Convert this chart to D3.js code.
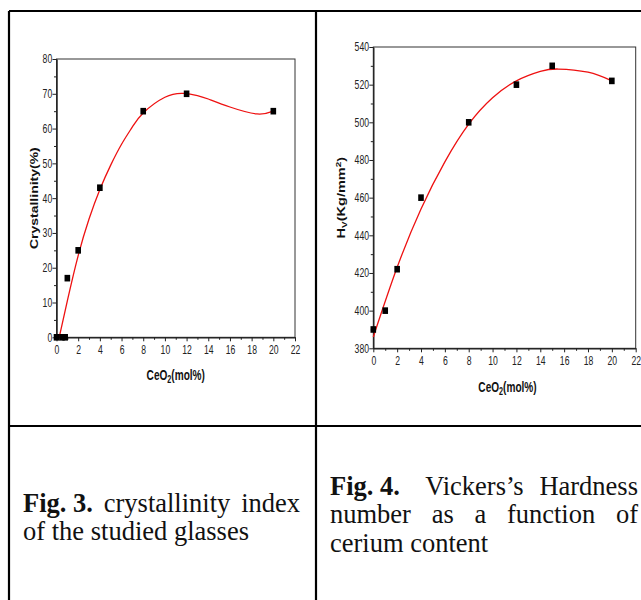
<!DOCTYPE html>
<html>
<head>
<meta charset="utf-8">
<title>Crystallinity and Vickers hardness vs CeO2</title>
<script src="https://d3js.org/d3.v7.min.js"></script>
<style>
  body { margin: 0; background: #fff; }
  svg { display: block; }
  .tick text { font-family: "Liberation Sans", Arial, sans-serif; }
</style>
</head>
<body>
<div id="chart"></div>
<script>
// ---- data ----
// Fig. 3 : crystallinity (%) vs CeO2 (mol%)
var crystX = [0, 0.5, 0.8, 1, 2, 4, 8, 12, 20];
var crystY = [0, 0, 0, 17, 25, 43, 65, 70, 65];
// red fitted curve
var crystFitX = [0.25, 1, 2, 3, 4, 5, 6, 7, 8, 10, 11.7, 13, 14, 16, 18.5, 20];
var crystFitY = [0, 10.5, 23.5, 34, 42.5, 49.5, 55.5, 60.5, 64.5, 69, 70.1, 69.5, 68.5, 66.2, 64.2, 65];
var crystYTicks = [0, 10, 20, 30, 40, 50, 60, 70, 80];
var crystYMinor = [5, 15, 25, 35, 45, 55, 65, 75];

// Fig. 4 : Vickers hardness vs CeO2 (mol%)
var hardX = [0, 1, 2, 4, 8, 12, 15, 20];
var hardY = [390, 400, 422, 460, 500, 520, 530, 522];
var hardFitX = [0, 2, 4, 6, 8, 10, 12, 14, 15.5, 18, 20];
var hardFitY = [386, 423, 454, 479, 499, 513, 522, 527, 528.3, 526.6, 522];
var hardYTicks = [380, 400, 420, 440, 460, 480, 500, 520, 540];
var hardYMinor = [390, 410, 430, 450, 470, 490, 510, 530];

var xTicks = [0, 2, 4, 6, 8, 10, 12, 14, 16, 18, 20, 22];
var xMinor = [1, 3, 5, 7, 9, 11, 13, 15, 17, 19, 21];

var W = 641, H = 600;
var SQ = 0.72; // the source figure is squeezed horizontally
var SANS = '"Liberation Sans", Arial, sans-serif';
var SERIF = '"Liberation Serif", "Times New Roman", serif';

var svg = d3.select("#chart").append("svg")
  .attr("width", W).attr("height", H);
svg.append("rect").attr("width", W).attr("height", H).attr("fill", "#fff");

// table lines
var lines = [[9, 11, 641, 11], [9, 11, 9, 600], [316, 11, 316, 600], [9, 426, 641, 426]];
lines.forEach(function(l) {
  svg.append("line")
    .attr("x1", l[0]).attr("y1", l[1]).attr("x2", l[2]).attr("y2", l[3])
    .attr("stroke", "#000").attr("stroke-width", 2.2);
});

function panel(opt) {
  var x = d3.scaleLinear().domain([0, 22]).range([opt.left, opt.right]);
  var y = d3.scaleLinear().domain(opt.ydom).range([opt.bottom, opt.top]);
  var g = svg.append("g");

  // frame
  g.append("rect")
    .attr("x", opt.left).attr("y", opt.top)
    .attr("width", opt.right - opt.left).attr("height", opt.bottom - opt.top)
    .attr("fill", "none").attr("stroke", "#333").attr("stroke-width", 1);

  g.append("g").attr("transform", "translate(0," + opt.bottom + ")")
    .call(d3.axisBottom(x).tickValues(xTicks).tickSize(4).tickSizeOuter(0).tickPadding(4));
  g.append("g").attr("transform", "translate(0," + opt.bottom + ")")
    .call(d3.axisBottom(x).tickValues(xMinor).tickSize(2.5).tickSizeOuter(0).tickFormat(""));
  g.append("g").attr("transform", "translate(" + opt.left + ",0)")
    .call(d3.axisLeft(y).tickValues(opt.yticks).tickSize(4).tickSizeOuter(0).tickPadding(2));
  g.append("g").attr("transform", "translate(" + opt.left + ",0)")
    .call(d3.axisLeft(y).tickValues(opt.yminor).tickSize(2.5).tickSizeOuter(0).tickFormat(""));

  g.selectAll(".domain").attr("stroke", "#222");
  g.selectAll(".tick line").attr("stroke", "#222");
  g.selectAll(".tick text").attr("font-size", 12).attr("fill", "#222")
    .attr("transform", "scale(" + SQ + ",1)");

  // fitted curve
  var line = d3.line()
    .x(function(d) { return x(d[0]); })
    .y(function(d) { return y(d[1]); })
    .curve(d3.curveNatural);
  g.append("path")
    .datum(d3.zip(opt.fitX, opt.fitY))
    .attr("d", line)
    .attr("fill", "none").attr("stroke", "#ee1111").attr("stroke-width", 1.3);

  // data squares
  g.selectAll("rect.pt")
    .data(d3.zip(opt.px, opt.py))
    .enter().append("rect").attr("class", "pt")
    .attr("x", function(d) { return x(d[0]) - 2.8; })
    .attr("y", function(d) { return y(d[1]) - 3.3; })
    .attr("width", 5.6).attr("height", 6.6)
    .attr("fill", "#000");

  // x title
  var cx = (opt.left + opt.right) / 2 + opt.xtOff;
  var xt = g.append("text")
    .attr("transform", "translate(" + cx + "," + (opt.bottom + opt.xtY) + ") scale(" + SQ + ",1)")
    .attr("text-anchor", "middle")
    .attr("font-family", SANS).attr("font-weight", "bold").attr("font-size", 14)
    .attr("fill", "#111");
  xt.append("tspan").text("CeO");
  xt.append("tspan").attr("font-size", 10).attr("dy", 3).text("2");
  xt.append("tspan").attr("dy", -3).text("(mol%)");

  // y title
  var yt = g.append("text")
    .attr("transform", "translate(" + opt.ytX + "," + ((opt.top + opt.bottom) / 2 + opt.ytYOff) +
      ") scale(" + SQ + ",1) rotate(-90)")
    .attr("text-anchor", "middle")
    .attr("font-family", SANS).attr("font-weight", "bold").attr("font-size", opt.ytSize)
    .attr("fill", "#111");
  opt.ytitle(yt);
}

panel({
  left: 56.5, right: 295, top: 59, bottom: 337.3,
  ydom: [0, 80], yticks: crystYTicks, yminor: crystYMinor,
  px: crystX, py: crystY, fitX: crystFitX, fitY: crystFitY,
  xtOff: 0, xtY: 43, ytX: 38, ytYOff: 0, ytSize: 14,
  ytitle: function(t) { t.text("Crystallinity(%)"); }
});

panel({
  left: 373.3, right: 635.7, top: 47, bottom: 348.3,
  ydom: [380, 540], yticks: hardYTicks, yminor: hardYMinor,
  px: hardX, py: hardY, fitX: hardFitX, fitY: hardFitY,
  xtOff: 3, xtY: 44, ytX: 345, ytYOff: 0, ytSize: 14.5,
  ytitle: function(t) {
    t.append("tspan").text("H");
    t.append("tspan").attr("font-size", 10).attr("dy", 3).text("V");
    t.append("tspan").attr("dy", -3).text("(Kg/mm");
    t.append("tspan").attr("font-size", 10).attr("dy", -5).text("2");
    t.append("tspan").attr("dy", 5).text(")");
  }
});

// ---- captions ----
// words carry an optional gap weight (w) used when the line is justified to x1
function captionLine(words, x0, base, x1, size) {
  var nodes = words.map(function(w) {
    return svg.append("text")
      .attr("y", base)
      .attr("font-family", SERIF).attr("font-size", size)
      .attr("font-weight", w.b ? "bold" : "normal")
      .attr("fill", "#111")
      .attr("xml:space", "preserve")
      .text(w.t);
  });
  var widths = nodes.map(function(n) { return n.node().getComputedTextLength(); });
  var total = d3.sum(widths);
  var weights = words.map(function(w, i) { return i === 0 ? 0 : (w.w || 1); });
  var unit = size * 0.25;
  if (x1 !== null && nodes.length > 1) unit = (x1 - x0 - total) / d3.sum(weights);
  var pos = x0;
  nodes.forEach(function(n, i) {
    pos += weights[i] * unit;
    n.attr("x", pos);
    pos += widths[i];
  });
}

var capSize = 26.5;
captionLine([{t: "Fig. 3.", b: 1}, {t: "crystallinity"}, {t: "index"}], 23, 512, 300, capSize);
captionLine([{t: "of"}, {t: "the"}, {t: "studied"}, {t: "glasses"}], 23, 540, null, capSize);

captionLine([{t: "Fig. 4.", b: 1}, {t: "Vickers\u2019s", w: 1.6}, {t: "Hardness"}], 330, 495, 638, capSize);
captionLine([{t: "number"}, {t: "as"}, {t: "a"}, {t: "function"}, {t: "of"}], 330, 523, 638, capSize);
captionLine([{t: "cerium"}, {t: "content"}], 330, 552, null, capSize);
</script>
</body>
</html>
